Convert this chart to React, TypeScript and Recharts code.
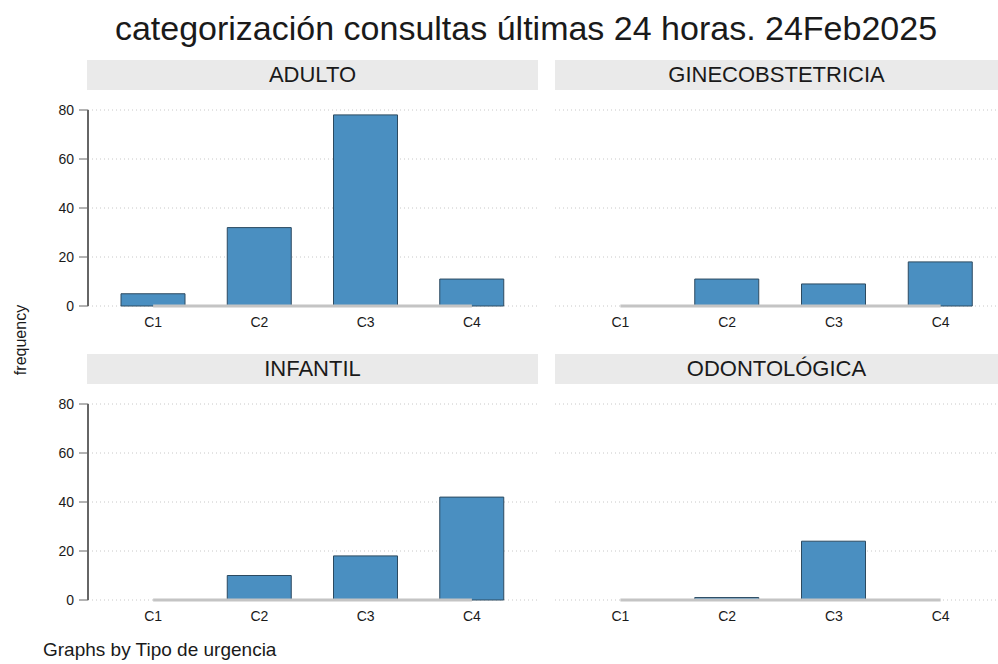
import React from 'react';
import { BarChart, Bar, XAxis, YAxis, CartesianGrid, ReferenceLine } from 'recharts';

const categories = ['C1', 'C2', 'C3', 'C4'];
const adulto = [5, 32, 78, 11];
const gineco = [0, 11, 9, 18];
const infantil = [0, 10, 18, 42];
const odonto = [0, 1, 24, 0];
const yTicks = [0, 20, 40, 60, 80];

const FONT = '"Liberation Sans", Arial, sans-serif';
const BAR_FILL = '#4a8fc1';
const BAR_STROKE = '#2c4a60';
const TEXT = '#1a1a1a';

const toRows = (vals: number[]) => categories.map((c, i) => ({ cat: c, freq: vals[i] }));

interface PanelProps {
  title: string;
  values: number[];
  left: number;
  top: number;
  width: number;
  showY: boolean;
  padL: number;
  padR: number;
}

function Panel({ title, values, left, top, width, showY, padL, padR }: PanelProps) {
  const headerLeft = showY ? left + 47 : left;
  const headerWidth = showY ? width - 49 : width;
  return (
    <>
      <div
        style={{
          position: 'absolute',
          left: headerLeft,
          top: top - 35,
          width: headerWidth,
          height: 30,
          background: '#eaeaea',
          color: TEXT,
          fontFamily: FONT,
          fontSize: 22,
          lineHeight: '30px',
          textAlign: 'center',
        }}
      >
        {title}
      </div>
      <div style={{ position: 'absolute', left, top }}>
        <BarChart
          width={width}
          height={240}
          data={toRows(values)}
          margin={{ top: 15, right: showY ? 2 : 0, left: 0, bottom: 0 }}
          barSize={64}
        >
          <CartesianGrid
            vertical={false}
            stroke="#c8c8c8"
            strokeDasharray="1 3"
          />
          <XAxis
            dataKey="cat"
            axisLine={false}
            tickLine={false}
            height={29}
            padding={{ left: padL, right: padR }}
            tick={{ fill: TEXT, fontSize: 14, fontFamily: FONT }}
            tickMargin={5}
          />
          <YAxis
            hide={!showY}
            width={48}
            domain={[0, 80]}
            ticks={yTicks}
            axisLine={{ stroke: '#666', strokeWidth: 2 }}
            tickLine={{ stroke: '#666' }}
            tickSize={9}
            tickMargin={5}
            tick={{ fill: TEXT, fontSize: 14, fontFamily: FONT }}
          />
          <ReferenceLine
            segment={[{ x: 'C1', y: 0 }, { x: 'C4', y: 0 }]}
            stroke="#c4c4c4"
            strokeWidth={3}
          />
          <Bar
            dataKey="freq"
            fill={BAR_FILL}
            stroke={BAR_STROKE}
            strokeWidth={1}
            isAnimationActive={false}
          />
        </BarChart>
      </div>
    </>
  );
}

export default function App() {
  return (
    <div
      style={{
        position: 'absolute',
        left: 0,
        top: 0,
        width: 998,
        height: 664,
        background: '#fff',
        fontFamily: FONT,
        overflow: 'hidden',
      }}
    >
      <div
        style={{
          position: 'absolute',
          left: 0,
          top: 8,
          width: 1052,
          textAlign: 'center',
          fontSize: 34,
          lineHeight: '40px',
          color: TEXT,
          whiteSpace: 'nowrap',
        }}
      >
        categorización consultas últimas 24 horas. 24Feb2025
      </div>
      <div
        style={{
          position: 'absolute',
          left: 21,
          top: 340,
          transform: 'translate(-50%, -50%) rotate(-90deg)',
          fontSize: 16,
          color: TEXT,
          whiteSpace: 'nowrap',
        }}
      >
        frequency
      </div>
      <Panel title="ADULTO" values={adulto} left={40} top={95} width={500} showY padL={12} padR={13} />
      <Panel title="GINECOBSTETRICIA" values={gineco} left={555} top={95} width={443} showY={false} padL={12} padR={4} />
      <Panel title="INFANTIL" values={infantil} left={40} top={389} width={500} showY padL={12} padR={13} />
      <Panel title="ODONTOLÓGICA" values={odonto} left={555} top={389} width={443} showY={false} padL={12} padR={4} />
      <div
        style={{
          position: 'absolute',
          left: 43,
          top: 639,
          fontSize: 19,
          lineHeight: '22px',
          color: TEXT,
          whiteSpace: 'nowrap',
        }}
      >
        Graphs by Tipo de urgencia
      </div>
    </div>
  );
}
